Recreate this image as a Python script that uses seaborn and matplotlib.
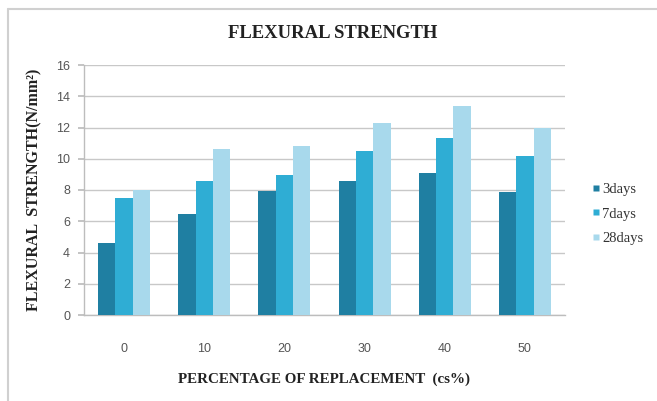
import matplotlib
matplotlib.use("Agg")
import matplotlib.pyplot as plt
from matplotlib.lines import Line2D
import seaborn as sns
import pandas as pd

# Flexural strength (N/mm²) by replacement level and curing age
replacement = ["0", "10", "20", "30", "40", "50"]
days_3 = [4.6, 6.45, 7.95, 8.55, 9.1, 7.85]
days_7 = [7.5, 8.55, 8.95, 10.5, 11.3, 10.2]
days_28 = [8.0, 10.6, 10.8, 12.3, 13.4, 11.95]
ages = ["3days", "7days", "28days"]
colors = ["#1f7fa2", "#2fadd4", "#a8d9ec"]

df = pd.DataFrame({
    "replacement": replacement * 3,
    "strength": days_3 + days_7 + days_28,
    "age": [ages[0]] * 6 + [ages[1]] * 6 + [ages[2]] * 6,
})

sns.set_theme(style="white")
serif = ["Liberation Serif", "DejaVu Serif"]
sans = ["Liberation Sans", "DejaVu Sans"]

fig = plt.figure(figsize=(6.57, 4.01), dpi=100)
ax = fig.add_axes([84 / 657, 86 / 401, 481 / 657, 250 / 401])

sns.barplot(data=df, x="replacement", y="strength", hue="age",
            hue_order=ages, palette=colors, width=0.65, saturation=1,
            edgecolor="none", linewidth=0, ax=ax, legend=False, zorder=3)

ax.set_ylim(0, 16)
ax.set_xlim(-0.5, 5.5)
ax.set_yticks(range(0, 17, 2))
ax.yaxis.grid(True, color="#c8c8c8", linewidth=1.0, zorder=0)
ax.xaxis.grid(False)
for side in ["top", "right"]:
    ax.spines[side].set_visible(False)
for side in ["left", "bottom"]:
    ax.spines[side].set_color("#bdbdbd")
    ax.spines[side].set_linewidth(1.0)
ax.tick_params(axis="y", which="both", left=True, length=4, color="#bdbdbd",
               labelsize=9, labelcolor="#555555", pad=6)
ax.tick_params(axis="x", bottom=False, labelsize=9, labelcolor="#555555", pad=14)
for lbl in ax.get_xticklabels() + ax.get_yticklabels():
    lbl.set_family(sans)

ax.set_xlabel("PERCENTAGE OF REPLACEMENT  (cs%)", family=serif,
              fontweight="bold", fontsize=10.8, color="#222222", labelpad=13)
ax.set_ylabel("FLEXURAL  STRENGTH(N/mm²)", family=serif,
              fontweight="bold", fontsize=11.5, color="#222222", labelpad=10)

fig.text(333 / 657, 1 - 33 / 401, "FLEXURAL STRENGTH", family=serif,
         fontweight="bold", fontsize=13.4, color="#222222",
         ha="center", va="center")

handles = [Line2D([], [], marker="s", linestyle="none", markersize=5,
                  markerfacecolor=c, markeredgecolor="none") for c in colors]
leg = fig.legend(handles, ages, loc="center left",
                 bbox_to_anchor=(578 / 657, 1 - 214 / 401), frameon=False,
                 handlelength=0.6, handletextpad=0.15, labelspacing=0.8,
                 prop={"family": serif, "size": 10.5})
for t in leg.get_texts():
    t.set_color("#333333")

# chart area frame (top and left edges)
fig.add_artist(Line2D([8 / 657, 1], [1 - 9 / 401, 1 - 9 / 401],
                      transform=fig.transFigure, color="#d0d0d0", linewidth=1.5))
fig.add_artist(Line2D([8 / 657, 8 / 657], [0, 1 - 9 / 401],
                      transform=fig.transFigure, color="#d0d0d0", linewidth=1.5))

fig.savefig("out.png", dpi=100)
